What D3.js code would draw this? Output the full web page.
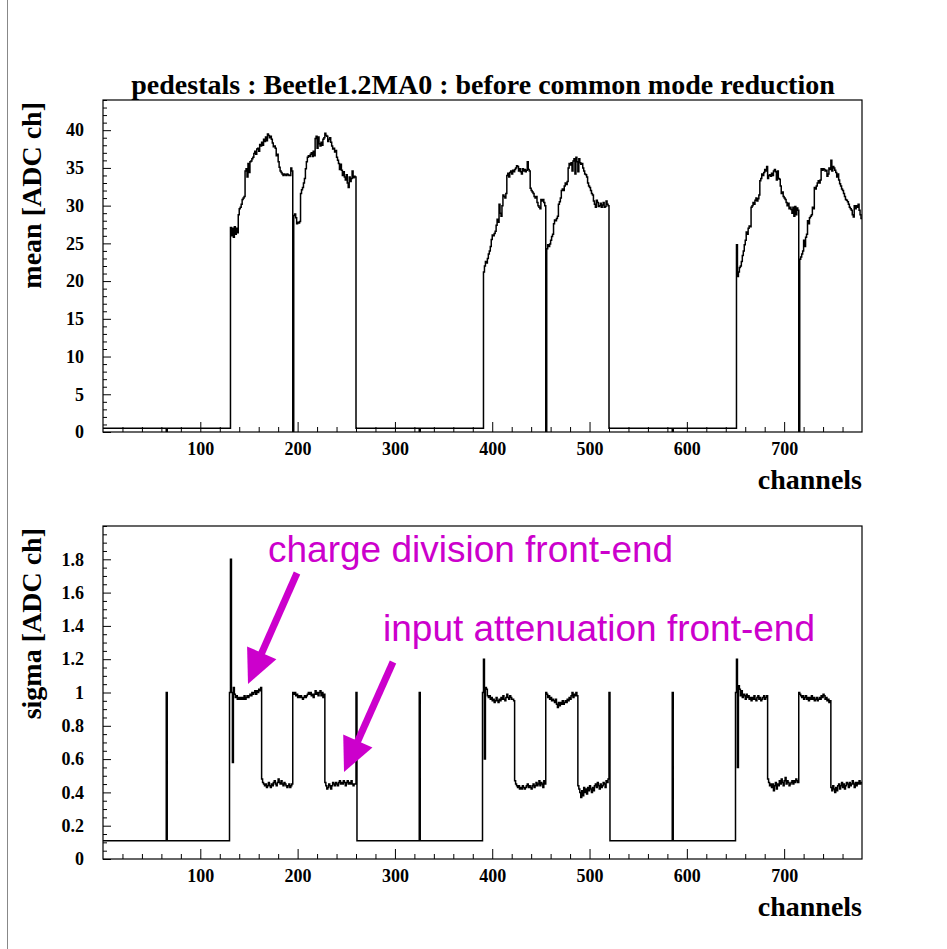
<!DOCTYPE html>
<html>
<head>
<meta charset="utf-8">
<script src="https://cdn.jsdelivr.net/npm/d3@7"></script>
<style>
  html, body { margin: 0; padding: 0; background: #fff; }
  svg { display: block; }
  .tick text { font-family: "Liberation Serif", "Times New Roman", serif; font-weight: bold; font-size: 18px; fill: #000; }
  .ttl { font-family: "Liberation Serif", "Times New Roman", serif; font-weight: bold; font-size: 28px; fill: #000; }
  .note { font-family: "Liberation Sans", Arial, sans-serif; font-size: 37px; fill: #cc00cc; }
</style>
</head>
<body>
<svg id="chart" width="947" height="949"></svg>
<script>
// ---- channel layout -------------------------------------------------------
const channelRange = [0, 780];
const xTickValues = [100, 200, 300, 400, 500, 600, 700];
const xMinorStep = 20;

// ---- pedestal mean [ADC ch] ------------------------------------------------
const meanRange = [0, 44];
const meanTickValues = [0, 5, 10, 15, 20, 25, 30, 35, 40];
const meanIdleLevel = 0.5;                        // unconnected channels
const meanZeroChannels = [65, 195, 325, 455, 585, 715];

const meanA1 = [27.1, 26.0, 27.0, 25.8, 27.2, 26.2, 27.0, 26.4, 28.8, 29.6, 29.8, 30.2, 30.8, 31.0,
  31.2, 34.6, 34.9, 33.8, 35.6, 34.4, 35.8, 35.9, 36.2, 36.4, 36.9, 37.2, 36.8, 37.5, 37.6, 37.2,
  38.1, 37.9, 38.4, 38.0, 38.8, 38.5, 39.1, 38.6, 39.5, 39.3, 39.0, 39.2, 38.8, 38.3, 37.8, 37.9,
  37.6, 36.6, 36.8, 35.8, 35.1, 34.6, 34.4, 34.2, 34.0, 34.2, 34.1, 34.0, 34.2, 34.1, 34.0, 34.0, 35.0, 34.6];
const meanA2 = [28.7, 28.9, 28.4, 27.6, 27.8, 27.7, 27.9, 31.6, 32.1, 32.4, 33.0, 33.6, 34.9, 35.8, 36.4, 36.6,
  36.5, 36.8, 37.0, 36.5, 37.2, 36.6, 38.9, 39.2, 37.6, 39.1, 38.2, 37.9, 38.4, 38.0, 38.8, 39.0,
  39.6, 39.3, 39.2, 38.5, 38.8, 39.0, 38.4, 37.9, 37.5, 37.6, 37.1, 37.3, 36.4, 36.0, 35.6, 34.8,
  35.5, 34.7, 34.0, 34.5, 33.8, 33.4, 34.1, 33.0, 32.4, 33.8, 33.2, 33.6, 34.6, 33.7, 33.9, 33.8];
const meanB1 = [21.2, 22.0, 22.6, 22.4, 23.0, 23.6, 24.0, 24.6, 25.5, 26.1, 26.0, 26.3, 26.6, 27.4, 28.2, 27.8,
  30.2, 29.0, 28.6, 30.0, 31.4, 31.2, 31.0, 31.6, 34.0, 34.3, 33.8, 34.4, 34.6, 34.2, 34.7, 34.5,
  34.8, 35.0, 35.3, 35.2, 34.6, 34.9, 34.5, 34.2, 34.9, 34.6, 34.8, 34.5, 34.7, 35.8, 34.8, 34.6,
  32.3, 32.0, 31.8, 31.6, 31.2, 31.0, 31.2, 30.4, 30.0, 29.8, 29.6, 30.8, 30.6, 30.8, 30.4, 30.0];
const meanB2 = [24.3, 24.8, 24.6, 24.9, 25.4, 25.9, 26.2, 27.6, 28.1, 28.0, 28.3, 28.6, 30.2, 30.5, 31.0, 32.0,
  32.2, 32.0, 32.6, 33.0, 32.8, 33.2, 35.0, 35.6, 35.4, 35.7, 34.6, 35.9, 36.2, 34.2, 36.4, 35.8,
  34.5, 36.2, 35.7, 35.5, 35.6, 35.0, 34.6, 34.2, 34.1, 33.8, 33.0, 32.6, 32.4, 32.0, 31.6, 31.4,
  30.6, 30.2, 29.8, 30.7, 30.4, 29.9, 30.0, 30.3, 29.8, 30.1, 30.4, 29.8, 29.9, 30.6, 30.2, 30.0];
const meanC1 = [24.8, 20.6, 21.2, 21.8, 22.0, 22.6, 23.4, 24.0, 24.8, 25.4, 26.5, 26.2, 27.0, 27.3, 27.2, 29.8,
  30.0, 30.4, 30.2, 30.7, 31.0, 30.6, 30.9, 31.4, 33.3, 33.6, 34.2, 34.0, 34.4, 34.8, 34.6, 35.2,
  33.6, 34.0, 34.1, 33.9, 34.3, 34.0, 34.6, 34.8, 34.5, 33.4, 34.6, 33.6, 33.5, 32.6, 31.6, 31.8,
  31.2, 31.0, 30.8, 30.4, 30.0, 30.3, 29.6, 29.8, 29.5, 29.0, 29.8, 28.6, 29.9, 28.8, 29.7, 29.4];
const meanC2 = [22.9, 23.2, 23.6, 24.0, 25.4, 24.6, 25.8, 26.2, 28.0, 27.6, 28.4, 28.6, 28.8, 29.8, 29.6, 32.4,
  32.2, 32.6, 33.0, 33.3, 33.0, 33.4, 34.9, 34.7, 34.9, 34.8, 34.6, 34.7, 33.9, 34.2, 35.0, 34.8,
  36.0, 34.6, 35.2, 35.0, 34.7, 34.4, 33.8, 34.2, 33.4, 32.9, 32.6, 32.2, 32.0, 31.6, 31.2, 30.8,
  30.7, 30.5, 30.2, 29.8, 29.6, 29.4, 28.8, 28.5, 30.0, 29.6, 30.0, 29.8, 30.2, 29.4, 28.8, 28.3];
const meanBlocks = [[131, meanA1], [196, meanA2], [391, meanB1], [456, meanB2], [651, meanC1], [716, meanC2]];

// ---- pedestal sigma [ADC ch] -----------------------------------------------
const sigmaRange = [0, 2];
const sigmaTickValues = [0, 0.2, 0.4, 0.6, 0.8, 1.0, 1.2, 1.4, 1.6, 1.8];
const sigmaIdleLevel = 0.11;
const sigmaSpikeChannels = [65, 325, 585];
const sigmaSpikeLevel = 1.0;

const sigmaA1 = [1.0, 1.8, 1.0, 0.58, 1.03, 0.99, 0.97, 0.98, 0.96, 0.97, 0.96, 0.97, 0.96, 0.97, 0.96, 0.98,
  0.96, 0.97, 0.98, 0.97, 0.98, 0.99, 0.98, 1.00, 0.99, 1.00, 1.01, 0.99, 1.01, 1.00, 1.02, 1.01, 1.03];
const sigmaA2 = [0.48, 0.46, 0.45, 0.44, 0.45, 0.43, 0.44, 0.46, 0.44, 0.43, 0.45, 0.44, 0.46, 0.47, 0.45, 0.44,
  0.46, 0.48, 0.46, 0.45, 0.47, 0.45, 0.44, 0.46, 0.45, 0.44, 0.43, 0.44, 0.45, 0.43, 0.44, 0.45];
const sigmaA3 = [1.0, 0.99, 1.00, 0.98, 0.99, 0.97, 0.98, 0.97, 0.98, 0.97, 0.96, 0.97, 0.98, 0.97, 0.98, 0.99, 1.00,
  0.99, 1.00, 0.98, 0.99, 0.97, 0.99, 1.01, 0.99, 1.00, 0.98, 1.00, 1.01, 0.98, 1.00, 0.97, 0.99];
const sigmaA4 = [0.46, 0.44, 0.42, 0.43, 0.45, 0.44, 0.42, 0.44, 0.46, 0.45, 0.44, 0.46, 0.45, 0.44, 0.46, 0.47,
  0.45, 0.46, 0.45, 0.47, 0.46, 0.44, 0.46, 0.47, 0.45, 0.46, 0.45, 0.47, 0.45, 0.44, 0.45, 0.45, 1.0];
const sigmaB1 = [1.0, 1.2, 0.6, 1.03, 1.02, 0.98, 0.97, 0.98, 0.96, 0.97, 0.95, 0.96, 0.94, 0.95, 0.97, 0.95, 0.94,
  0.96, 0.95, 0.97, 0.96, 0.98, 0.96, 0.95, 0.97, 0.99, 0.97, 0.96, 0.98, 0.97, 0.96, 0.96, 0.95];
const sigmaB2 = [0.47, 0.45, 0.44, 0.43, 0.44, 0.42, 0.43, 0.42, 0.44, 0.43, 0.42, 0.43, 0.44, 0.45, 0.43, 0.44,
  0.43, 0.42, 0.44, 0.45, 0.43, 0.44, 0.46, 0.44, 0.45, 0.47, 0.44, 0.46, 0.45, 0.43, 0.47, 0.45];
const sigmaB3 = [1.0, 0.99, 0.97, 0.98, 0.96, 0.97, 0.95, 0.96, 0.95, 0.94, 0.96, 0.93, 0.91, 0.94, 0.92, 0.94, 0.93,
  0.95, 0.93, 0.94, 0.95, 0.94, 0.96, 0.95, 0.97, 0.96, 0.98, 1.00, 0.97, 0.99, 0.98, 1.00, 0.98];
const sigmaB4 = [0.44, 0.42, 0.40, 0.37, 0.41, 0.38, 0.43, 0.40, 0.42, 0.39, 0.43, 0.41, 0.44, 0.42, 0.40, 0.43,
  0.41, 0.44, 0.45, 0.43, 0.46, 0.44, 0.42, 0.45, 0.43, 0.44, 0.46, 0.45, 0.43, 0.47, 0.46, 0.48, 1.0];
const sigmaC1 = [1.0, 1.2, 0.55, 1.04, 1.02, 0.98, 1.01, 0.97, 0.99, 0.98, 0.96, 0.99, 0.97, 0.98, 0.96, 0.97, 0.95,
  0.97, 0.96, 0.98, 0.96, 0.95, 0.97, 0.98, 0.96, 0.97, 0.95, 0.96, 0.97, 0.98, 0.96, 0.97, 0.98];
const sigmaC2 = [0.48, 0.46, 0.44, 0.45, 0.43, 0.45, 0.41, 0.44, 0.46, 0.42, 0.45, 0.44, 0.47, 0.45, 0.48, 0.46,
  0.44, 0.47, 0.49, 0.45, 0.47, 0.46, 0.44, 0.45, 0.46, 0.47, 0.45, 0.47, 0.46, 0.48, 0.47, 0.46];
const sigmaC3 = [1.0, 0.99, 0.98, 0.97, 0.98, 0.96, 0.97, 0.98, 0.96, 0.97, 0.95, 0.97, 0.96, 0.98, 0.96, 0.97, 0.95,
  0.96, 0.97, 0.95, 0.96, 0.97, 0.96, 0.98, 0.97, 0.99, 0.98, 0.96, 0.97, 0.95, 0.96, 0.94, 0.95];
const sigmaC4 = [0.43, 0.41, 0.44, 0.42, 0.40, 0.43, 0.41, 0.44, 0.45, 0.42, 0.44, 0.46, 0.43, 0.45, 0.42, 0.44,
  0.46, 0.45, 0.43, 0.46, 0.44, 0.45, 0.47, 0.45, 0.43, 0.46, 0.44, 0.46, 0.45, 0.47, 0.45, 0.46];
const sigmaBlocks = [[130, sigmaA1], [163, sigmaA2], [195, sigmaA3], [228, sigmaA4],
                     [390, sigmaB1], [423, sigmaB2], [455, sigmaB3], [488, sigmaB4],
                     [650, sigmaC1], [683, sigmaC2], [715, sigmaC3], [748, sigmaC4]];

// ---- texts -----------------------------------------------------------------
const titleText = "pedestals : Beetle1.2MA0 : before common mode reduction";
const xTitle = "channels";
const meanTitle = "mean [ADC ch]";
const sigmaTitle = "sigma [ADC ch]";
const notes = [
  { text: "charge division front-end", x: 268, y: 562, from: [297, 573], to: [248, 684] },
  { text: "input attenuation front-end", x: 383, y: 641, from: [393, 662], to: [344, 772] }
];

// ---- assemble per-channel contents --------------------------------------------
function buildChannels(idle, blocks, overrides) {
  const n = channelRange[1] - channelRange[0];
  const v = Array.from({ length: n }, () => idle);
  overrides.forEach(([ch, val]) => { v[ch] = val; });
  blocks.forEach(([start, arr]) => arr.forEach((val, i) => { v[start + i] = val; }));
  return v.map((val, i) => ({ ch: channelRange[0] + i, val }));
}
const meanData = buildChannels(meanIdleLevel, meanBlocks, meanZeroChannels.map(c => [c, 0]));
const sigmaData = buildChannels(sigmaIdleLevel, sigmaBlocks, sigmaSpikeChannels.map(c => [c, sigmaSpikeLevel]));

// ---- drawing -------------------------------------------------------------------
const svg = d3.select("#chart");
const frameX = [103, 862];

// page border
svg.append("line").attr("x1", 7.5).attr("x2", 7.5).attr("y1", 0).attr("y2", 949)
  .attr("stroke", "#888").attr("stroke-width", 1);

svg.append("text").attr("class", "ttl").attr("x", 483).attr("y", 93.5)
  .attr("text-anchor", "middle").text(titleText);

function drawPanel(cfg) {
  const x = d3.scaleLinear().domain(channelRange).range(frameX);
  const y = d3.scaleLinear().domain(cfg.yDomain).range([cfg.bottom, cfg.top]);
  const g = svg.append("g");
  const clipId = "clip" + cfg.id;
  svg.append("clipPath").attr("id", clipId).append("rect")
    .attr("x", frameX[0]).attr("y", cfg.top).attr("width", frameX[1] - frameX[0]).attr("height", cfg.bottom - cfg.top);

  // histogram outline
  const pts = cfg.data.map(d => [d.ch, d.val]);
  pts.push([channelRange[1], cfg.data[cfg.data.length - 1].val]);
  const line = d3.line().x(d => x(d[0])).y(d => y(d[1])).curve(d3.curveStepAfter);
  g.append("path").attr("d", line(pts)).attr("fill", "none").attr("stroke", "#000")
    .attr("stroke-width", 1.5).attr("clip-path", `url(#${clipId})`);

  // x axis: minor + major ticks pointing into the frame
  const xMinor = d3.range(channelRange[0] + xMinorStep, channelRange[1], xMinorStep)
    .filter(v => !xTickValues.includes(v));
  g.append("g").attr("transform", `translate(0,${cfg.bottom})`)
    .call(d3.axisBottom(x).tickValues(xMinor).tickSizeInner(-5).tickSizeOuter(0).tickFormat(""))
    .call(a => a.select(".domain").remove());
  g.append("g").attr("transform", `translate(0,${cfg.bottom})`)
    .call(d3.axisBottom(x).tickValues(xTickValues).tickSizeInner(-10).tickSizeOuter(0).tickPadding(10).tickFormat(d3.format("d")))
    .call(a => a.select(".domain").remove());

  // y axis
  const yMinor = d3.range(cfg.yDomain[0], cfg.yDomain[1] + 1e-9, cfg.yMinorStep)
    .map(v => +v.toFixed(4)).filter(v => !cfg.yTicks.some(t => Math.abs(t - v) < 1e-6));
  g.append("g").attr("transform", `translate(${frameX[0]},0)`)
    .call(d3.axisLeft(y).tickValues(yMinor).tickSizeInner(-4).tickSizeOuter(0).tickFormat(""))
    .call(a => a.select(".domain").remove());
  g.append("g").attr("transform", `translate(${frameX[0]},0)`)
    .call(d3.axisLeft(y).tickValues(cfg.yTicks).tickSizeInner(-8).tickSizeOuter(0).tickPadding(19)
      .tickFormat(d => String(+d.toFixed(1))))
    .call(a => a.select(".domain").remove());
  g.selectAll(".tick line").attr("stroke", "#000");

  // frame
  g.append("rect").attr("x", frameX[0]).attr("y", cfg.top)
    .attr("width", frameX[1] - frameX[0]).attr("height", cfg.bottom - cfg.top)
    .attr("fill", "none").attr("stroke", "#000").attr("stroke-width", 1.2);

  // axis titles
  g.append("text").attr("class", "ttl").attr("x", frameX[1]).attr("y", cfg.bottom + 57)
    .attr("text-anchor", "end").text(xTitle);
  g.append("text").attr("class", "ttl")
    .attr("transform", `translate(41,${cfg.top + 2}) rotate(-90)`)
    .attr("text-anchor", "end").text(cfg.yTitle);
}

drawPanel({ id: "mean", data: meanData, top: 100, bottom: 432, yDomain: meanRange,
  yTicks: meanTickValues, yMinorStep: 1, yTitle: meanTitle });
drawPanel({ id: "sigma", data: sigmaData, top: 526, bottom: 859, yDomain: sigmaRange,
  yTicks: sigmaTickValues, yMinorStep: 0.05, yTitle: sigmaTitle });

// annotations with arrows
const noteColor = "#cc00cc";
notes.forEach(n => {
  svg.append("text").attr("class", "note").attr("x", n.x).attr("y", n.y).text(n.text);
  const [x0, y0] = n.from, [x1, y1] = n.to;
  const len = Math.hypot(x1 - x0, y1 - y0);
  const ux = (x1 - x0) / len, uy = (y1 - y0) / len;
  const headLen = 34, headHalf = 16;
  const bx = x1 - ux * headLen, by = y1 - uy * headLen;
  svg.append("line").attr("x1", x0).attr("y1", y0).attr("x2", bx + ux * 2).attr("y2", by + uy * 2)
    .attr("stroke", noteColor).attr("stroke-width", 7);
  svg.append("path")
    .attr("d", `M${x1},${y1}L${bx - uy * headHalf},${by + ux * headHalf}L${bx + uy * headHalf},${by - ux * headHalf}Z`)
    .attr("fill", noteColor);
});
</script>
</body>
</html>
